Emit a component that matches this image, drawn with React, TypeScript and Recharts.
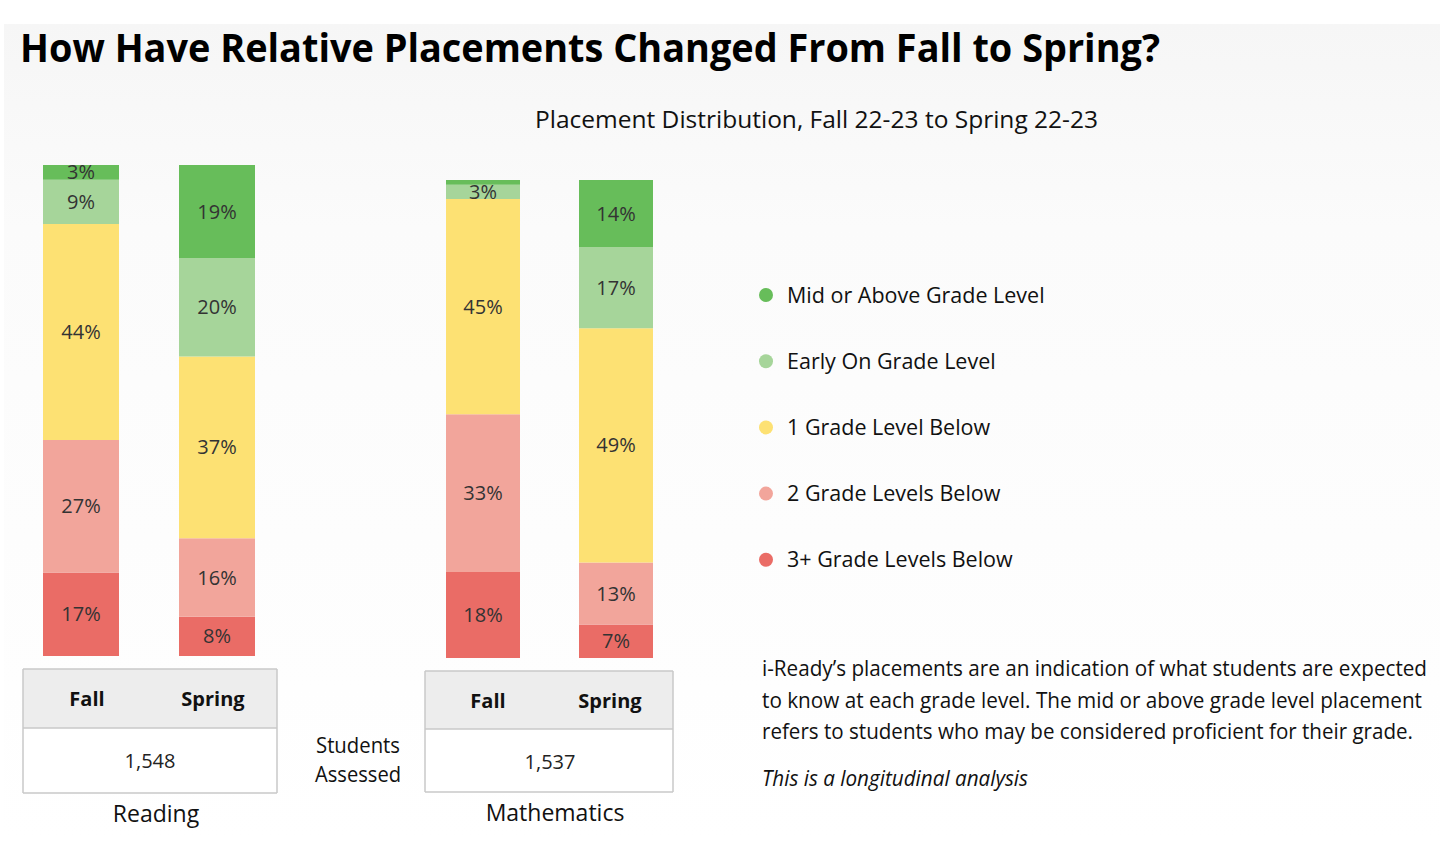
import React from 'react';
import { BarChart, Bar, XAxis, YAxis, LabelList } from 'recharts';

const terms = ['Fall', 'Spring'];
const levels = [
  '3+ Grade Levels Below',
  '2 Grade Levels Below',
  '1 Grade Level Below',
  'Early On Grade Level',
  'Mid or Above Grade Level',
];
const levelColors = ['#EA6C66', '#F2A59B', '#FDE173', '#A6D59A', '#67BD5A'];

const readingFall = [17, 27, 44, 9, 3];
const readingSpring = [8, 16, 37, 20, 19];
const mathFall = [18, 33, 45, 3, 1];
const mathSpring = [7, 13, 49, 17, 14];

const subjects = ['Reading', 'Mathematics'];
const readingAssessed = '1,548';
const mathAssessed = '1,537';

const titleText = 'How Have Relative Placements Changed From Fall to Spring?';
const subtitleText = 'Placement Distribution, Fall 22-23 to Spring 22-23';
const noteLines = [
  'i-Ready\u2019s placements are an indication of what students are expected',
  'to know at each grade level. The mid or above grade level placement',
  'refers to students who may be considered proficient for their grade.',
];
const noteItalic = 'This is a longitudinal analysis';

function buildRows(fall: number[], spring: number[]) {
  return terms.map((t, i) => {
    const vals = i === 0 ? fall : spring;
    const row: any = { term: t };
    levels.forEach((_, j) => {
      row['L' + j] = vals[j];
    });
    return row;
  });
}

const readingRows = buildRows(readingFall, readingSpring);
const mathRows = buildRows(mathFall, mathSpring);

const FONT = '"Open Sans", "Noto Sans", sans-serif';
const PAD = 14;

function StackChart(props: { rows: any[]; width: number; height: number; barSize: number; left: number; top: number }) {
  const { rows, width, height, barSize, left, top } = props;
  return (
    <div style={{ position: 'absolute', left, top: top - PAD, width, height: height + PAD }}>
      <BarChart
        width={width}
        height={height + PAD}
        data={rows}
        margin={{ top: PAD, right: 0, bottom: 0, left: 0 }}
        barSize={barSize}
        style={{ overflow: 'visible' }}
      >
        <XAxis dataKey="term" hide />
        <YAxis hide domain={[0, 100]} type="number" />
        {levels.map((name, j) => (
          <Bar key={name} dataKey={'L' + j} name={name} stackId="s" fill={levelColors[j]} isAnimationActive={false}>
            <LabelList
              dataKey={'L' + j}
              position="center"
              formatter={(v: any) => (Number(v) >= 2 ? `${v}%` : '')}
              fill="#333333"
              fontSize={20}
              fontFamily={FONT}
            />
          </Bar>
        ))}
      </BarChart>
    </div>
  );
}

function T(p: any) {
  const { x, y, size, weight, anchor, len, italic, fill, children } = p;
  return (
    <text
      x={x}
      y={y}
      fontSize={size}
      fontWeight={weight || 400}
      fontStyle={italic ? 'italic' : 'normal'}
      textAnchor={anchor || 'start'}
      textLength={len}
      lengthAdjust={len ? 'spacingAndGlyphs' : undefined}
      fill={fill || '#111'}
      fontFamily={FONT}
    >
      {children}
    </text>
  );
}

function Table(p: { x1: number; x2: number; y1: number; y2: number; y3: number; fallX: number; springX: number; count: string; countX: number; label: string; labelX: number }) {
  const { x1, x2, y1, y2, y3, fallX, springX, count, countX, label, labelX } = p;
  const line = '#C9C9C9';
  return (
    <g>
      <rect x={x1} y={y1} width={x2 - x1} height={y2 - y1} fill="#EDEDED" />
      <rect x={x1} y={y2} width={x2 - x1} height={y3 - y2} fill="#FFFFFF" />
      <line x1={x1} x2={x2} y1={y1} y2={y1} stroke={line} strokeWidth={1.5} />
      <line x1={x1} x2={x2} y1={y2} y2={y2} stroke={line} strokeWidth={1.5} />
      <line x1={x1} x2={x2} y1={y3} y2={y3} stroke={line} strokeWidth={1.5} />
      <line x1={x1} x2={x1} y1={y1} y2={y3} stroke={line} strokeWidth={1.5} />
      <line x1={x2} x2={x2} y1={y1} y2={y3} stroke={line} strokeWidth={1.5} />
      <T x={fallX} y={y1 + 37} size={20} weight={700} anchor="middle" fill="#111">{terms[0]}</T>
      <T x={springX} y={y1 + 37} size={20} weight={700} anchor="middle" fill="#111">{terms[1]}</T>
      <T x={countX} y={y2 + 40} size={20} anchor="middle" fill="#222">{count}</T>
      <T x={labelX} y={y3 + 29} size={23} anchor="middle" fill="#111">{label}</T>
    </g>
  );
}

export default function App() {
  const legendOrder = [4, 3, 2, 1, 0];
  return (
    <div style={{ position: 'absolute', left: 0, top: 0, width: 1440, height: 841, overflow: 'hidden', background: '#ffffff' }}>
      <svg width={1440} height={841} style={{ position: 'absolute', left: 0, top: 0 }}>
        <defs>
          <linearGradient id="bg" x1="0" y1="0" x2="0" y2="1">
            <stop offset="0" stopColor="#f6f6f6" />
            <stop offset="0.25" stopColor="#fbfbfb" />
            <stop offset="1" stopColor="#ffffff" />
          </linearGradient>
        </defs>
        <rect x={4} y={24} width={1436} height={817} fill="url(#bg)" />
        <T x={20} y={62} size={40} weight={700} len={1140} fill="#000">{titleText}</T>
        <T x={535} y={128} size={23} len={563} fill="#111">{subtitleText}</T>

        {legendOrder.map((j, k) => {
          const cy = 295 + k * 66.2;
          return (
            <g key={levels[j]}>
              <circle cx={766} cy={cy} r={7} fill={levelColors[j]} />
              <T x={787} y={cy + 7.5} size={21.5} fill="#111">{levels[j]}</T>
            </g>
          );
        })}

        <Table x1={23} x2={277} y1={669} y2={728} y3={793} fallX={87} springX={213} count={readingAssessed} countX={150} label={subjects[0]} labelX={156} />
        <Table x1={425} x2={673} y1={671} y2={729} y3={792} fallX={488} springX={610} count={mathAssessed} countX={550} label={subjects[1]} labelX={555} />

        <T x={358} y={753} size={21} anchor="middle" len={84} fill="#111">Students</T>
        <T x={358} y={782} size={21} anchor="middle" len={86} fill="#111">Assessed</T>

        {noteLines.map((l, i) => (
          <T key={i} x={762} y={676 + i * 31.5} size={21} len={[665, 660, 651][i]} fill="#111">{l}</T>
        ))}
        <T x={762} y={786} size={21} italic len={266} fill="#111">{noteItalic}</T>
      </svg>

      <StackChart rows={readingRows} left={13} top={165} width={272} height={491} barSize={76} />
      <StackChart rows={mathRows} left={415.5} top={180} width={266} height={478} barSize={74} />
    </div>
  );
}
